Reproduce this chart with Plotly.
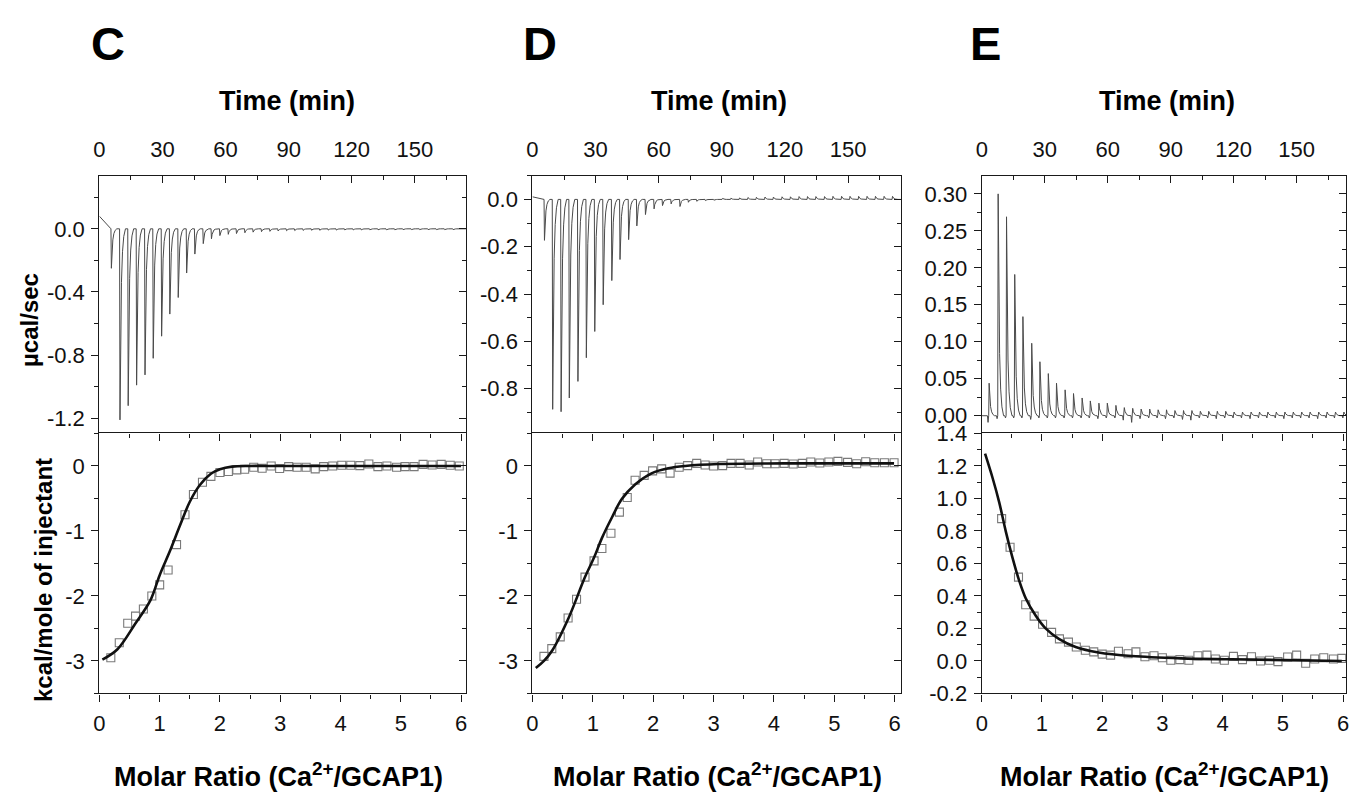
import plotly.graph_objects as go

W, H = 1352, 804
FONT = "Liberation Sans, Arial, Helvetica, sans-serif"
LC = "#1a1a1a"

# ---------------- data: raw thermograms (injection time in min, peak in ucal/sec) ----------------
C_time = [5.5, 9.6, 13.5, 17.5, 21.5, 25.4, 29.4, 33.3, 37.3, 41.3, 45.2, 49.2, 53.1, 57.1,
          61.1, 65.0, 69.0, 72.9, 76.9, 80.9, 84.8, 88.8, 92.7, 96.7, 100.7, 104.6, 108.6,
          112.5, 116.5, 120.5, 124.4, 128.4, 132.3, 136.3, 140.3, 144.2, 148.2, 152.1, 156.1,
          160.1, 164.0, 168.0]
C_peak = [-0.25, -1.21, -1.12, -0.99, -0.925, -0.82, -0.68, -0.54, -0.435, -0.28, -0.16,
          -0.094, -0.063, -0.043, -0.035, -0.03, -0.025, -0.021, -0.018, -0.016, -0.014,
          -0.012, -0.011, -0.01, -0.009, -0.009, -0.008, -0.008, -0.007, -0.007, -0.007,
          -0.006, -0.006, -0.006, -0.006, -0.005, -0.005, -0.005, -0.005, -0.005, -0.005, -0.005]
C_base_t = [0.0, 2.8, 4.4]
C_base_v = [0.08, 0.04, 0.02]

D_time = [5.5, 9.4, 13.4, 17.3, 21.4, 25.4, 29.4, 33.4, 37.5, 41.4, 45.5, 49.4, 53.5, 57.6,
          61.6, 65.7, 69.9, 73.9, 77.9, 82.0, 86.0, 90.1, 94.1, 98.2, 102.2, 106.2, 110.3,
          114.3, 118.4, 122.4, 126.5, 130.5, 134.5, 138.6, 142.6, 146.7, 150.7, 154.8, 158.8,
          162.8, 166.9, 170.9]
D_peak = [-0.173, -0.887, -0.897, -0.839, -0.769, -0.669, -0.558, -0.445, -0.343, -0.254,
          -0.17, -0.112, -0.064, -0.04, -0.026, -0.019, -0.03, -0.012, -0.008, -0.005, -0.003,
          0.004, 0.005, 0.006, 0.008, 0.009, 0.01, 0.01, 0.011, 0.011, 0.012, 0.012, 0.012,
          0.012, 0.013, 0.013, 0.013, 0.013, 0.013, 0.013, 0.013, 0.013]
D_base_t = [0.0, 3.0]
D_base_v = [0.011, 0.006]

E_time = [3.3, 7.6, 11.6, 15.5, 19.4, 23.6, 27.5, 31.5, 35.4, 39.5, 43.5, 47.6, 51.5, 55.6,
          59.6, 63.7, 67.7, 71.7, 75.7, 79.8, 83.8, 87.8, 91.8, 95.9, 99.9, 103.9, 107.9,
          112.0, 116.0, 120.0, 124.0, 128.1, 132.1, 136.1, 140.1, 144.2, 148.2, 152.2, 156.2,
          160.3, 164.3, 168.3, 172.3]
E_peak = [0.044, 0.30, 0.269, 0.191, 0.134, 0.098, 0.073, 0.057, 0.044, 0.035, 0.03, 0.024,
          0.02, 0.017, 0.017, 0.014, 0.011, 0.01, 0.009, 0.009, 0.008, 0.008, 0.007, 0.007,
          0.007, 0.006, 0.006, 0.006, 0.006, 0.005, 0.005, 0.005, 0.005, 0.005, 0.005, 0.005,
          0.005, 0.005, 0.005, 0.005, 0.005, 0.005, 0.005]
E_dip = [-0.009, -0.004, -0.003, -0.003, -0.003, -0.005, -0.003, -0.003, -0.003, -0.003,
         -0.003, -0.003, -0.003, -0.004, -0.003, -0.003, -0.006, -0.009, -0.004, -0.003,
         -0.003, -0.004, -0.003, -0.005, -0.006, -0.003, -0.003, -0.004, -0.003, -0.003,
         -0.003, -0.004, -0.003, -0.003, -0.003, -0.004, -0.003, -0.003, -0.003, -0.004,
         -0.003, -0.003, -0.003]
E_base_t = [0.0]
E_base_v = [0.0]

# ---------------- data: integrated heats (molar ratio, kcal/mol of injectant) ----------------
C_ratio = [0.19, 0.33, 0.47, 0.60, 0.73, 0.87, 1.00, 1.14, 1.28, 1.42, 1.56, 1.71, 1.85, 2.00,
           2.14, 2.28, 2.41, 2.56, 2.70, 2.85, 2.99, 3.14, 3.28, 3.43, 3.58, 3.72, 3.87, 4.02,
           4.17, 4.32, 4.47, 4.62, 4.77, 4.93, 5.07, 5.22, 5.37, 5.52, 5.67, 5.82, 5.97]
C_heat = [-2.95, -2.72, -2.42, -2.31, -2.20, -2.00, -1.83, -1.60, -1.21, -0.75, -0.44, -0.25,
          -0.16, -0.10, -0.085, -0.06, -0.05, -0.02, -0.035, 0.0, -0.04, -0.01, -0.02, -0.02,
          -0.045, -0.01, 0.0, 0.01, 0.01, 0.005, 0.03, -0.01, 0.0, -0.02, -0.01, -0.01, 0.025,
          0.015, 0.025, 0.01, 0.0]
C_fit_x = [0.05, 0.3, 0.6, 0.85, 1.0, 1.17, 1.34, 1.5, 1.67, 1.85, 2.0, 2.2, 2.5, 3.0, 4.0, 5.0, 6.0]
C_fit_y = [-2.98, -2.82, -2.42, -2.06, -1.68, -1.31, -0.91, -0.55, -0.29, -0.12, -0.05, -0.01,
           0.0, 0.0, 0.0, 0.0, 0.0]

D_ratio = [0.19, 0.32, 0.46, 0.59, 0.73, 0.87, 1.02, 1.15, 1.30, 1.44, 1.57, 1.70, 1.85, 1.99,
           2.14, 2.28, 2.43, 2.57, 2.72, 2.86, 3.00, 3.15, 3.29, 3.44, 3.59, 3.73, 3.88, 4.02,
           4.17, 4.32, 4.47, 4.61, 4.76, 4.91, 5.06, 5.22, 5.37, 5.52, 5.67, 5.83, 5.99]
D_heat = [-2.93, -2.81, -2.63, -2.34, -2.05, -1.71, -1.46, -1.27, -1.035, -0.71, -0.485, -0.22,
          -0.145, -0.075, -0.045, -0.11, -0.02, 0.005, 0.04, 0.015, 0.0, 0.005, 0.04, 0.04,
          0.015, 0.06, 0.035, 0.035, 0.04, 0.03, 0.04, 0.06, 0.045, 0.06, 0.07, 0.055, 0.035,
          0.065, 0.05, 0.05, 0.05]
D_fit_x = [0.055, 0.19, 0.33, 0.6, 0.87, 1.02, 1.15, 1.32, 1.48, 1.7, 1.98, 2.25, 2.53, 3.08, 4.17, 5.99]
D_fit_y = [-3.11, -3.0, -2.835, -2.335, -1.71, -1.41, -1.11, -0.785, -0.51, -0.285, -0.11,
           -0.035, 0.0, 0.03, 0.04, 0.04]

E_ratio = [0.33, 0.47, 0.61, 0.73, 0.87, 1.01, 1.16, 1.29, 1.44, 1.57, 1.72, 1.86, 2.00, 2.14,
           2.27, 2.43, 2.56, 2.71, 2.86, 3.00, 3.14, 3.29, 3.44, 3.59, 3.74, 3.88, 4.03, 4.18,
           4.33, 4.48, 4.63, 4.78, 4.92, 5.08, 5.23, 5.38, 5.53, 5.68, 5.84, 5.98]
E_heat = [0.876, 0.70, 0.516, 0.346, 0.276, 0.226, 0.176, 0.136, 0.116, 0.086, 0.066, 0.056,
          0.042, 0.036, 0.06, 0.044, 0.056, 0.026, 0.032, 0.02, 0.004, 0.008, 0.004, 0.032,
          0.036, 0.012, 0.004, 0.028, 0.008, 0.026, 0.0, 0.004, -0.004, 0.024, 0.036, -0.014,
          0.012, 0.02, 0.012, 0.016]
E_fit_x = [0.055, 0.18, 0.29, 0.40, 0.51, 0.62, 0.73, 0.90, 1.06, 1.28, 1.56, 1.94, 2.49, 3.31, 4.14, 5.98]
E_fit_y = [1.276, 1.126, 0.976, 0.796, 0.636, 0.496, 0.386, 0.276, 0.20, 0.136, 0.086, 0.052,
           0.03, 0.016, 0.01, 0.0]

# ---------------- tick labels ----------------
TIME_TICKS = [0, 30, 60, 90, 120, 150]
RATIO_TICKS = [0, 1, 2, 3, 4, 5, 6]
C_top_yticks = [-1.2, -0.8, -0.4, 0.0]
D_top_yticks = [-0.8, -0.6, -0.4, -0.2, 0.0]
E_top_yticks = [0.00, 0.05, 0.10, 0.15, 0.20, 0.25, 0.30]
CD_bot_yticks = [-3, -2, -1, 0]
E_bot_yticks = [-0.2, 0.0, 0.2, 0.4, 0.6, 0.8, 1.0, 1.2, 1.4]

# ---------------- style constants (peak glyph of the raw trace) ----------------
PEAK_DT = [0.2, 0.5, 0.9, 1.4, 2.0, 2.8]
PEAK_FRAC = [1.0, 0.55, 0.28, 0.12, 0.04, 0.0]


def thermogram(times, peaks, base_t, base_v, end_t, dips=None):
    xs, ys = list(base_t), list(base_v)
    for i, (t, p) in enumerate(zip(times, peaks)):
        if dips is not None:
            xs += [t - 0.6, t - 0.3]
            ys += [0.0, dips[i]]
        xs.append(t)
        ys.append(0.0)
        for dt, f in zip(PEAK_DT, PEAK_FRAC):
            xs.append(t + dt)
            ys.append(p * f)
    xs.append(end_t)
    ys.append(0.0)
    return xs, ys


XDOM = [[94 / W, 463 / W], [530 / W, 900.7 / W], [982.3 / W, 1349 / W]]
YTOP = [1 - 435 / H, 1 - 169 / H]
YBOT = [1 - 703.3 / H, 1 - 435 / H]

top_specs = [
    (C_time, C_peak, C_base_t, C_base_v, None, [0, 174.3], [-1.296, 0.336], C_top_yticks, "{:.1f}", 0.2),
    (D_time, D_peak, D_base_t, D_base_v, None, [0, 175.0], [-0.989, 0.1], D_top_yticks, "{:.1f}", 0.1),
    (E_time, E_peak, E_base_t, E_base_v, E_dip, [0, 173.5], [-0.024, 0.3245], E_top_yticks, "{:.2f}", 0.025),
]
bot_specs = [
    (C_ratio, C_heat, C_fit_x, C_fit_y, [0, 6.08], [-3.5, 0.5], CD_bot_yticks, "{:.0f}", 0.5),
    (D_ratio, D_heat, D_fit_x, D_fit_y, [0, 6.1], [-3.5, 0.5], CD_bot_yticks, "{:.0f}", 0.5),
    (E_ratio, E_heat, E_fit_x, E_fit_y, [0, 6.05], [-0.2, 1.4], E_bot_yticks, "{:.1f}", 0.1),
]

fig = go.Figure()

common = dict(showline=True, linecolor=LC, linewidth=1.3, showgrid=False, zeroline=False,
              tickcolor=LC, tickwidth=1.3, ticklen=7,
              tickfont=dict(size=22, family=FONT, color="#111"))


def mname(prefix, n):
    return prefix + ("" if n == 1 else str(n))


def rname(letter, n):
    return letter + ("" if n == 1 else str(n))


def minor(dtick, ticks):
    return dict(dtick=dtick, tick0=0, ticks=ticks, ticklen=4, tickwidth=1.2, tickcolor=LC)


layout = {}
for i, (tt, pk, bt, bv, dp, xr, yr, yt, fmt, ymin) in enumerate(top_specs):
    n = i + 1
    xs, ys = thermogram(tt, pk, bt, bv, xr[1] + 2, dp)
    fig.add_trace(go.Scatter(x=xs, y=ys, mode="lines", line=dict(color="#4a4a4a", width=1),
                             xaxis=rname("x", n), yaxis=rname("y", n), showlegend=False,
                             hoverinfo="skip"))
    layout[mname("xaxis", n)] = dict(common, domain=XDOM[i], anchor=rname("y", n), side="top",
                                     range=xr, tickmode="array", tickvals=TIME_TICKS,
                                     ticktext=[str(v) for v in TIME_TICKS], ticks="inside",
                                     ticklabelstandoff=9, minor=minor(15, "inside"))
    layout[mname("yaxis", n)] = dict(common, domain=YTOP, anchor=rname("x", n), side="left",
                                     range=yr, tickmode="array", tickvals=yt,
                                     ticktext=[fmt.format(v) for v in yt], ticks="outside",
                                     ticklabelstandoff=2, minor=minor(ymin, "outside"))
    rn = n + 6
    layout[mname("yaxis", rn)] = dict(common, overlaying=rname("y", n), anchor=rname("x", n),
                                      side="right", range=yr, tickmode="array", tickvals=yt,
                                      showticklabels=False, ticks="inside",
                                      minor=minor(ymin, "inside"))
    fig.add_trace(go.Scatter(x=[None], y=[None], xaxis=rname("x", n), yaxis=rname("y", rn),
                             showlegend=False, hoverinfo="skip"))

for i, (rx, hy, fx, fy, xr, yr, yt, fmt, ymin) in enumerate(bot_specs):
    n = i + 4
    fig.add_trace(go.Scatter(x=rx, y=hy, mode="markers",
                             marker=dict(symbol="square-open", size=8, color="#7a7a7a",
                                         line=dict(width=1.1)),
                             xaxis=rname("x", n), yaxis=rname("y", n), showlegend=False,
                             hoverinfo="skip"))
    fig.add_trace(go.Scatter(x=fx, y=fy, mode="lines", line=dict(color="#111", width=2.6,
                                                                  shape="spline", smoothing=1.0),
                             xaxis=rname("x", n), yaxis=rname("y", n), showlegend=False,
                             hoverinfo="skip"))
    layout[mname("xaxis", n)] = dict(common, domain=XDOM[i], anchor=rname("y", n), side="bottom",
                                     range=xr, tickmode="array", tickvals=RATIO_TICKS,
                                     ticktext=[str(v) for v in RATIO_TICKS], ticks="outside",
                                     ticklabelstandoff=3, minor=minor(0.5, "outside"))
    layout[mname("yaxis", n)] = dict(common, domain=YBOT, anchor=rname("x", n), side="left",
                                     range=yr, tickmode="array", tickvals=yt,
                                     ticktext=[fmt.format(v) for v in yt], ticks="outside",
                                     ticklabelstandoff=2, minor=minor(ymin, "outside"))
    rn = n + 6
    layout[mname("yaxis", rn)] = dict(common, overlaying=rname("y", n), anchor=rname("x", n),
                                      side="right", range=yr, tickmode="array", tickvals=yt,
                                      showticklabels=False, ticks="inside",
                                      minor=minor(ymin, "inside"))
    fig.add_trace(go.Scatter(x=[None], y=[None], xaxis=rname("x", n), yaxis=rname("y", rn),
                             showlegend=False, hoverinfo="skip"))
    tn = n + 3
    layout[mname("xaxis", tn)] = dict(common, overlaying=rname("x", n), anchor=rname("y", n),
                                      side="top", range=xr, tickmode="array", tickvals=RATIO_TICKS,
                                      showticklabels=False, ticks="inside",
                                      minor=minor(0.5, "inside"))
    fig.add_trace(go.Scatter(x=[None], y=[None], xaxis=rname("x", tn), yaxis=rname("y", n),
                             showlegend=False, hoverinfo="skip"))


def ann(text, x, y, size, angle=0):
    return dict(text=text, x=x / W, y=1 - y / H, xref="paper", yref="paper", showarrow=False,
                xanchor="center", yanchor="middle", textangle=angle,
                font=dict(size=size, family=FONT, color="#000"))


annotations = []
for letter, cx in zip(["C", "D", "E"], [103, 537.5, 986]):
    annotations.append(ann("<b>%s</b>" % letter, cx, 33, 47))
for cx in [283, 718, 1169]:
    annotations.append(ann("<b>Time (min)</b>", cx, 92, 27))
for cx in [274, 716, 1166]:
    annotations.append(ann("<b>Molar Ratio (Ca<sup>2+</sup>/GCAP1)</b>", cx, 787, 27))
annotations.append(ann("<b>µcal/sec</b>", 23, 318, 24, -90))
annotations.append(ann("<b>kcal/mole of injectant</b>", 38.5, 586, 24, -90))

fig.update_layout(width=W, height=H, margin=dict(l=0, r=0, t=0, b=0),
                  paper_bgcolor="white", plot_bgcolor="white",
                  font=dict(family=FONT, color="#000"), annotations=annotations, **layout)

fig.write_html("out.html")
